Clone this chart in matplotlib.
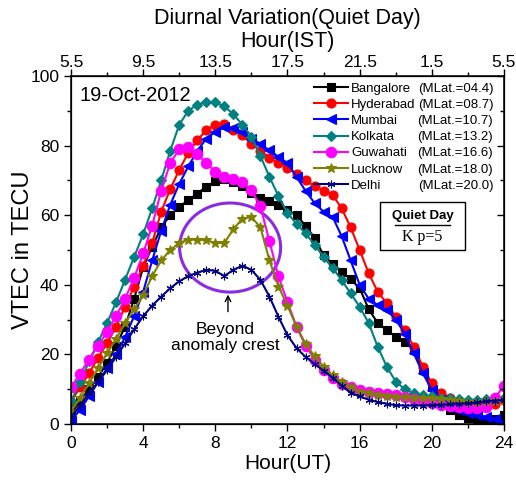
import numpy as np
import matplotlib
matplotlib.use('Agg')
import matplotlib.pyplot as plt
from matplotlib.patches import Ellipse, Rectangle

plt.rcParams['font.family'] = ['Liberation Sans', 'DejaVu Sans']

hours = np.arange(0, 24.01, 0.5)

bangalore = [3, 6.5, 10, 13.5, 17.5, 22.5, 28, 36, 45, 51, 56.5, 60, 62.4, 64.3, 66.2, 68.2, 69.7,
             70.3, 69.6, 68.3, 66.5, 65, 64.2, 62.8, 61.4, 60, 57, 53.5, 48.5, 46, 43.8, 41.6, 39,
             33, 29, 27, 25.1, 23.5, 21.3, 15.5, 10.7, 6.9, 4, 2.5, 1.6, 1.2, 1.1, 1.5, 2.6]
hyderabad = [6.4, 10.5, 14.6, 19, 23.2, 28, 33.7, 39.5, 45.5, 52, 61, 67.5, 73, 78, 81.5, 84.5, 86,
             86.2, 84.5, 83, 80.5, 78.5, 76.5, 75, 73.5, 71.8, 70, 68.3, 67, 65.8, 62, 56.5, 50,
             43.3, 38, 34.7, 30.8, 27, 22.2, 16.5, 11.7, 8.8, 7.4, 6.5, 5.9, 5.6, 5.4, 5.8, 6.9]
mumbai = [1, 4, 8, 12, 16, 20, 25, 31, 38, 47, 55.5, 63, 69, 74, 78.5, 82, 84,
          85.2, 85, 84, 82, 80.5, 78.6, 76.8, 75, 71, 67, 63.5, 61, 59.5, 54, 47, 40,
          36, 34.2, 32.8, 30, 26, 20.3, 14.6, 9.8, 6.9, 5, 4, 3.1, 2.6, 2.1, 1.4, 0.7]
kolkata = [6.5, 12, 18, 23.5, 29, 35, 41.5, 48, 54.5, 62, 70, 78.5, 86, 90, 91.8, 92.5, 92.4,
           91.3, 89, 86, 82.6, 77, 71, 65.5, 60.6, 57.5, 54.8, 51.5, 48, 44.8, 41.4, 37.5, 33.7,
           29, 22.2, 16.5, 12.2, 10, 8.8, 8.3, 7.9, 7.6, 7.4, 7.2, 6.9, 7, 7.1, 7.3, 7.4]
guwahati = [10.5, 14.5, 18.5, 22.5, 26.5, 31, 36, 42, 49, 57, 67, 75, 79, 79.5, 77.5, 75, 72.5,
            71, 70.5, 69.5, 67.2, 62.5, 52.5, 42.4, 35, 28, 22.5, 18.5, 15.5, 13.2, 11.5, 10.5, 9.8,
            9.3, 8.9, 8.6, 8.3, 7.8, 7.2, 6.5, 5.9, 5.5, 5.2, 4.9, 4.5, 4.6, 5, 7.5, 11]
lucknow = [3.5, 7.5, 11.7, 16, 20.3, 24.5, 29, 33, 37, 42.5, 47, 50, 52, 53, 53, 52.8, 52,
           52, 56, 59, 59.5, 56.5, 47, 39.5, 34, 28, 23, 19.5, 16.5, 14, 12.2, 10.5, 9.3,
           8.8, 8.3, 8, 7.8, 7.7, 7.6, 7.5, 7.4, 7.2, 7, 6.7, 6.4, 6.4, 6.5, 6.7, 6.9]
delhi = [2, 5.3, 8.8, 12, 15.5, 19.3, 23.2, 27.2, 31, 34, 36.6, 39, 41, 42.5, 43.5, 44.3, 44,
         42.5, 44.3, 45.5, 44.3, 41.4, 36.6, 30.8, 25.5, 21.8, 19.3, 17.2, 15.3, 13.3, 11, 9, 7.9,
         7, 6.3, 5.8, 5.4, 5.3, 5.3, 5.3, 5.4, 5.5, 5.6, 5.8, 5.9, 6.2, 6.5, 6.7, 6.9]

names = ['Bangalore', 'Hyderabad', 'Mumbai', 'Kolkata', 'Guwahati', 'Lucknow', 'Delhi']
mlat = ['(MLat.=04.4)', '(MLat.=08.7)', '(MLat.=10.7)', '(MLat.=13.2)',
        '(MLat.=16.6)', '(MLat.=18.0)', '(MLat.=20.0)']
series = [bangalore, hyderabad, mumbai, kolkata, guwahati, lucknow, delhi]
colors = ['black', 'red', 'blue', '#008080', 'magenta', '#808000', '#000080']
markers = ['s', 'o', '<', 'D', 'o', '*', (6, 2, 0)]
msizes = [6, 6.5, 6.5, 5, 7.5, 7.5, 5.5]

ut_ticks = [0, 4, 8, 12, 16, 20, 24]
ist_labels = ['5.5', '9.5', '13.5', '17.5', '21.5', '1.5', '5.5']

fig = plt.figure(figsize=(5.16, 4.80), dpi=100)
ax = fig.add_axes([0.1376, 0.1167, 0.8391, 0.725])

for name, vals, c, m, ms in zip(names, series, colors, markers, msizes):
    ax.plot(hours, vals, color=c, marker=m, markersize=ms, lw=1.5,
            markeredgewidth=0.8, label=name)

ax.set_xlim(0, 24)
ax.set_ylim(0, 100)
ax.set_xticks(ut_ticks)
ax.set_xticks(np.arange(0, 25, 2), minor=True)
ax.set_yticks(np.arange(0, 101, 20))
ax.set_yticks(np.arange(0, 101, 10), minor=True)
ax.tick_params(axis='both', which='major', labelsize=12.5, length=5, width=1, direction='out')
ax.tick_params(axis='both', which='minor', length=3, width=1, direction='out')
for s in ax.spines.values():
    s.set_linewidth(1.1)
ax.set_xlabel('Hour(UT)', fontsize=15, labelpad=2)
ax.set_ylabel('VTEC in TECU', fontsize=17, labelpad=-3)

# right axis ticks point inward
ax3 = ax.twinx()
ax3.set_ylim(0, 100)
ax3.set_yticks(np.arange(0, 101, 20))
ax3.set_yticks(np.arange(0, 101, 10), minor=True)
ax3.set_yticklabels([])
ax3.tick_params(axis='y', which='major', direction='in', length=5, width=1)
ax3.tick_params(axis='y', which='minor', direction='in', length=3, width=1)

ax2 = ax.twiny()
ax2.set_xlim(0, 24)
ax2.set_xticks(ut_ticks)
ax2.set_xticklabels(ist_labels)
ax2.set_xticks(np.arange(0, 25, 2), minor=True)
ax2.tick_params(axis='x', which='major', labelsize=12.5, length=5, width=1, pad=-1)
ax2.tick_params(axis='x', which='minor', length=3, width=1)
ax2.set_xlabel('Diurnal Variation(Quiet Day)\nHour(IST)', fontsize=15.5, labelpad=6,
               linespacing=1.1)

ax.text(0.45, 94.5, '19-Oct-2012', fontsize=14.5, va='center', ha='left')

leg = ax.legend(loc='upper left', bbox_to_anchor=(0.54, 1.008), frameon=False,
                fontsize=9.5, handlelength=2.6, handletextpad=0.2,
                labelspacing=0.3, borderaxespad=0.3)
fig.canvas.draw()
inv = ax.transAxes.inverted()
for t, lab in zip(leg.get_texts(), mlat):
    bb = t.get_window_extent()
    yc = inv.transform(((bb.x0 + bb.x1) / 2, (bb.y0 + bb.y1) / 2))[1]
    ax.text(0.975, yc, lab, fontsize=9.5, ha='right', va='center', transform=ax.transAxes)

# quiet day box
ax.add_patch(Rectangle((17.13, 50), 4.7, 13.8, fill=False, lw=1, ec='black'))
ax.text(19.48, 59.8, 'Quiet Day', fontsize=9.5, fontweight='bold', ha='center', va='center')
ax.plot([17.95, 21.0], [57.2, 57.2], color='black', lw=1)
ax.text(19.48, 53.6, 'K p=5', fontsize=11.5, ha='center', va='center',
        family=['Liberation Serif', 'DejaVu Serif'])

ax.add_patch(Ellipse((8.82, 50.7), 5.6, 25.6, fill=False, ec='#8a2be2', lw=2.2))
ax.annotate('', xy=(8.7, 38.0), xytext=(8.7, 31.5),
            arrowprops=dict(arrowstyle='->', color='black', lw=1))
ax.text(8.55, 24.8, 'Beyond\nanomaly crest', fontsize=12.5, ha='center', va='center',
        linespacing=1.1)

fig.savefig('out.png', dpi=100)
